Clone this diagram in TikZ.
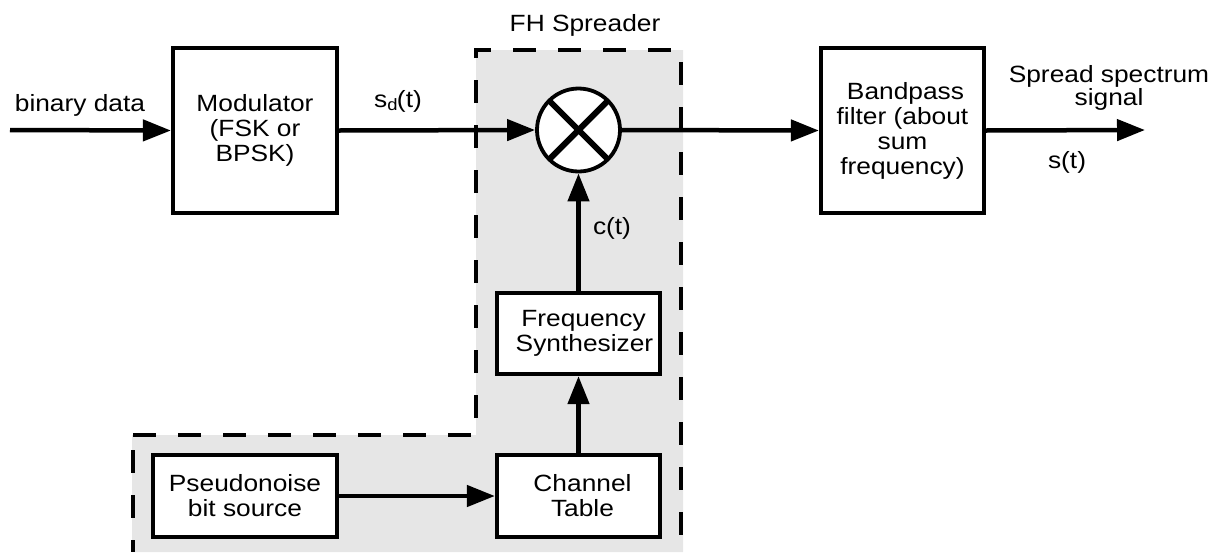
\documentclass[tikz,border=0pt]{standalone}
\usepackage{fontspec}
\setmainfont[FakeStretch=1.12]{Liberation Sans}
\usetikzlibrary{arrows.meta,calc}
\definecolor{fhgray}{HTML}{E6E6E6}
\begin{document}
\begin{tikzpicture}[x=1pt,y=-1pt,
  txt/.style={font=\fontsize{23.5}{25}\selectfont, inner sep=0pt, align=center},
  blockbox/.style={draw, line width=4.2pt, fill=white, rectangle, inner sep=0pt,
     font=\fontsize{23.5}{25}\selectfont, align=center},
  conn/.style={line width=4.5pt, -{Triangle[length=28pt,width=21pt]}},
  border/.style={line width=4.5pt, dash pattern=on 23pt off 22pt}
]
\useasboundingbox (0,0) rectangle (1219,552);
% shaded FH spreader region
\fill[fhgray] (476,50) -- (683,50) -- (683,552) -- (132,552) -- (132,435) -- (476,435) -- cycle;
\draw[border] (133,435) -- (476,435) -- (476,50) -- (681,50) -- (681,552);
\draw[border, dash phase=30pt] (133,435) -- (133,552);
\node[txt] (fh) at (585,25) {FH Spreader};

% blocks
\node[blockbox, minimum width=164pt, minimum height=165pt] (mod) at (255,130.5) {Modulator\\(FSK or\\BPSK)};
\node[blockbox, minimum width=163pt, minimum height=165pt] (bpf) at (902.5,130.5) {\hspace*{6pt}Bandpass\\filter (about\\sum\\frequency)};
\node[blockbox, minimum width=163pt, minimum height=81pt] (fs) at (578.5,333.5) {\hspace*{10pt}Frequency\\\hspace*{12pt}Synthesizer};
\node[blockbox, minimum width=163pt, minimum height=82pt] (ct) at (578.5,496) {\hspace*{8pt}Channel\\\hspace*{8pt}Table};
\node[blockbox, minimum width=184pt, minimum height=82pt] (pn) at (245,496) {Pseudonoise\\bit source};
\node[draw, circle, line width=3.8pt, fill=white, minimum size=83pt, inner sep=0pt] (mix) at (578.5,130) {};
\draw[line width=6pt] ($(mix.center)+(45:40)$) -- ($(mix.center)+(225:40)$);
\draw[line width=6pt] ($(mix.center)+(135:40)$) -- ($(mix.center)+(315:40)$);

% connectors
\coordinate (in) at (10,130);
\coordinate (out) at (1145,130);
\draw[conn] (in) -- (mod.west);
\draw[conn] (mod.east) -- (mix.west);
\draw[conn] (mix.east) -- (bpf.west);
\draw[conn] (bpf.east) -- (out);
\draw[conn] (fs.north) -- (mix.south);
\draw[conn] (ct.north) -- (fs.south);
\draw[conn] (pn.east) -- (ct.west);

% labels
\node[txt] (lbin) at (80,105) {binary data};
\node[txt] (lsd) at (398,101) {s$_{\mathrm{d}}$(t)};
\node[txt, font=\fontsize{23.5}{23}\selectfont] (lss) at (1109,88) {Spread spectrum\\signal};
\node[txt] (ls) at (1067,162) {s(t)};
\node[txt] (lc) at (612,228) {c(t)};
\end{tikzpicture}
\end{document}
